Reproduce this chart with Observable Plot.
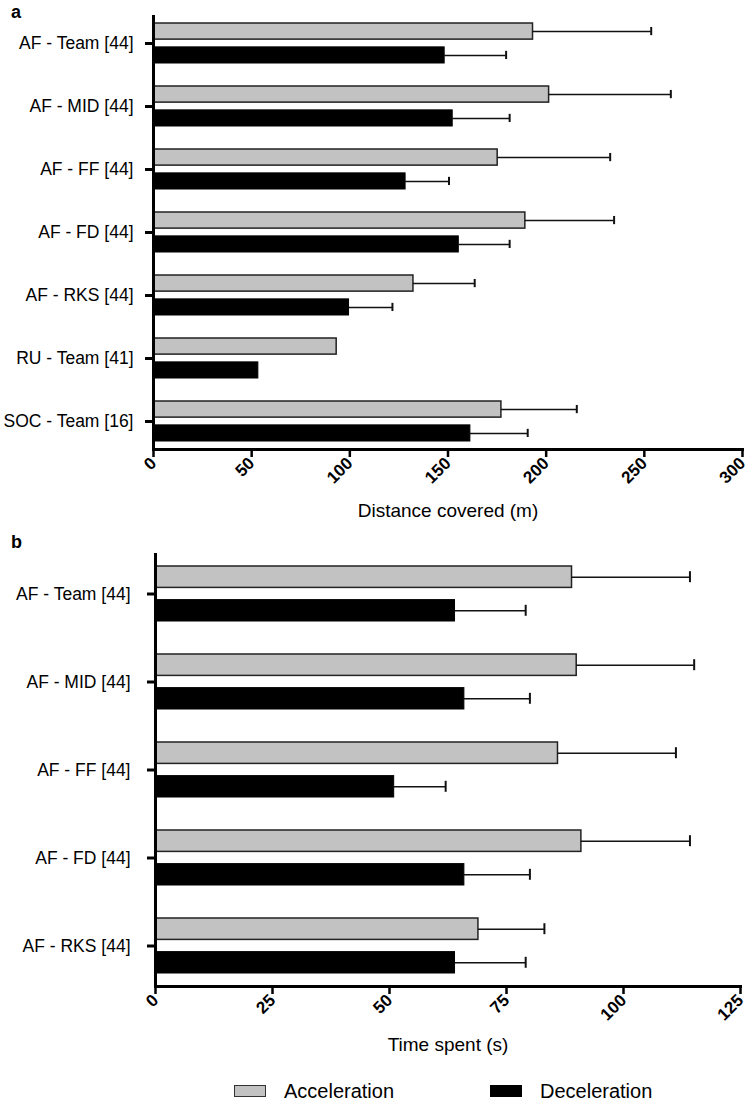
<!DOCTYPE html>
<html>
<head>
<meta charset="utf-8">
<script src="https://cdn.jsdelivr.net/npm/d3@7"></script>
<script src="https://cdn.jsdelivr.net/npm/@observablehq/plot@0.6"></script>
<style>
  body { margin: 0; background: #fff; }
  #wrap { position: relative; width: 751px; height: 1106px; overflow: hidden;
          font-family: "Liberation Sans", Arial, Helvetica, sans-serif; color: #000; background: #fff; }
  .plabel { position: absolute; z-index: 5; font-weight: bold; font-size: 18px; line-height: 18px; }
  .pane { position: absolute; left: 0; z-index: 1; }
  svg.chart [aria-label="x-axis tick label"] text { font-weight: bold !important; font-size: 17px !important; }
  svg.chart [aria-label="x-axis label"] text { font-weight: normal !important; font-size: 19px !important; }
  svg.chart [aria-label="y-axis tick label"] text { font-size: 17.5px !important; }
  .legend { position: absolute; z-index: 5; top: 1079px; left: 0; width: 751px; height: 24px; font-size: 20px; }
  .legend .sw { position: absolute; top: 6px; width: 30px; height: 10px; border: 1.5px solid #333; }
  .legend .tx { position: absolute; top: 0; line-height: 24px; }
</style>
</head>
<body>
<div id="wrap">
  <div id="pa" class="pane" style="top:0px;"></div>
  <div id="pb" class="pane" style="top:540px;"></div>
  <div class="plabel" style="left:11px;top:3px;">a</div>
  <div class="plabel" style="left:11px;top:533px;">b</div>
  <div class="legend">
    <div class="sw" style="left:234px;background:#c2c2c2;"></div>
    <div class="tx" style="left:284px;">Acceleration</div>
    <div class="sw" style="left:490px;background:#000;border-color:#000;"></div>
    <div class="tx" style="left:540px;">Deceleration</div>
  </div>
</div>
<script>
// ---- Panel a: distance covered (m)
const categoriesA = ["AF - Team [44]", "AF - MID [44]", "AF - FF [44]", "AF - FD [44]", "AF - RKS [44]", "RU - Team [41]", "SOC - Team [16]"];
const accelMeanA = [193.3, 201.5, 175.3, 189.4, 132.4, 93.3, 177.2];
const accelSdA   = [60.2, 62.0, 57.3, 45.2, 31.2, null, 38.4];
const decelMeanA = [148.3, 152.4, 128.4, 155.5, 99.6, 53.4, 161.4];
const decelSdA   = [31.3, 29.0, 22.1, 25.9, 22.1, null, 29.2];
const ticksA = [0, 50, 100, 150, 200, 250, 300];
const labelA = "Distance covered (m)";

// ---- Panel b: time spent (s)
const categoriesB = ["AF - Team [44]", "AF - MID [44]", "AF - FF [44]", "AF - FD [44]", "AF - RKS [44]"];
const accelMeanB = [89.0, 90.0, 86.0, 91.0, 69.0];
const accelSdB   = [25.2, 25.1, 25.2, 23.2, 14.1];
const decelMeanB = [64.0, 66.0, 51.0, 66.0, 64.0];
const decelSdB   = [15.1, 14.0, 11.0, 14.0, 15.1];
const ticksB = [0, 25, 50, 75, 100, 125];
const labelB = "Time spent (s)";

const seriesNames = ["Acceleration", "Deceleration"];
const seriesFill = ["#c2c2c2", "#000000"];

function panel({cats, acc, accSd, dec, decSd, ticks, label, height, margin, capH, labelOffset, yPad}) {
  const n = cats.length;
  const pIn = 0.37, pOut = 0.12;
  const plotH = height - margin.top - margin.bottom;
  const step = plotH / (n - pIn + 2 * pOut);
  const bw = step * (1 - pIn);
  const accRows = cats.map((c, i) => ({cat: c, series: seriesNames[0], mean: acc[i], sd: accSd[i]}));
  const decRows = cats.map((c, i) => ({cat: c, series: seriesNames[1], mean: dec[i], sd: decSd[i]}));
  const accErr = accRows.filter(d => d.sd != null);
  const decErr = decRows.filter(d => d.sd != null);
  const off = 0.3 * bw;
  const capInset = (bw - capH) / 2;
  return Plot.plot({
    className: "chart",
    width: 751,
    height,
    marginTop: margin.top, marginRight: margin.right, marginBottom: margin.bottom, marginLeft: margin.left,
    style: {fontFamily: "'Liberation Sans', Arial, Helvetica, sans-serif", fontSize: "17px", color: "#000", background: "transparent", overflow: "visible"},
    x: {domain: [ticks[0], ticks[ticks.length - 1]]},
    y: {domain: cats, paddingInner: pIn, paddingOuter: pOut},
    marks: [
      Plot.barX(accRows, {x: "mean", y: "cat", fill: seriesFill[0], stroke: "#222", strokeWidth: 1.5, insetBottom: 0.6 * bw}),
      Plot.barX(decRows, {x: "mean", y: "cat", fill: seriesFill[1], stroke: "#000", strokeWidth: 1, insetTop: 0.6 * bw}),
      Plot.ruleY(accErr, {y: "cat", x1: "mean", x2: d => d.mean + d.sd, dy: -off, stroke: "#111", strokeWidth: 1.5}),
      Plot.tickX(accErr, {x: d => d.mean + d.sd, y: "cat", dy: -off, insetTop: capInset, insetBottom: capInset, stroke: "#111", strokeWidth: 2}),
      Plot.ruleY(decErr, {y: "cat", x1: "mean", x2: d => d.mean + d.sd, dy: off, stroke: "#111", strokeWidth: 1.5}),
      Plot.tickX(decErr, {x: d => d.mean + d.sd, y: "cat", dy: off, insetTop: capInset, insetBottom: capInset, stroke: "#111", strokeWidth: 2}),
      Plot.ruleX([0], {stroke: "#000", strokeWidth: 3}),
      Plot.frame({anchor: "bottom", stroke: "#000", strokeWidth: 3}),
      Plot.axisY({tickSize: 8, tickPadding: yPad, strokeWidth: 3, label: null, fontSize: 17.5}),
      Plot.axisX({ticks, tickRotate: -45, tickSize: 8, tickPadding: 3, strokeWidth: 2.5,
                  fontSize: 17, fontWeight: "bold",
                  label, labelAnchor: "center", labelArrow: "none", labelOffset})
    ]
  });
}

document.getElementById("pa").appendChild(panel({
  cats: categoriesA, acc: accelMeanA, accSd: accelSdA, dec: decelMeanA, decSd: decelSdA,
  ticks: ticksA, label: labelA, height: 530,
  margin: {top: 15, right: 9, bottom: 81, left: 153}, capH: 8, labelOffset: 67, yPad: 12
}));
document.getElementById("pb").appendChild(panel({
  cats: categoriesB, acc: accelMeanB, accSd: accelSdB, dec: decelMeanB, decSd: decelSdB,
  ticks: ticksB, label: labelB, height: 530,
  margin: {top: 13, right: 11, bottom: 84, left: 155}, capH: 12, labelOffset: 64, yPad: 17
}));
</script>
</body>
</html>
